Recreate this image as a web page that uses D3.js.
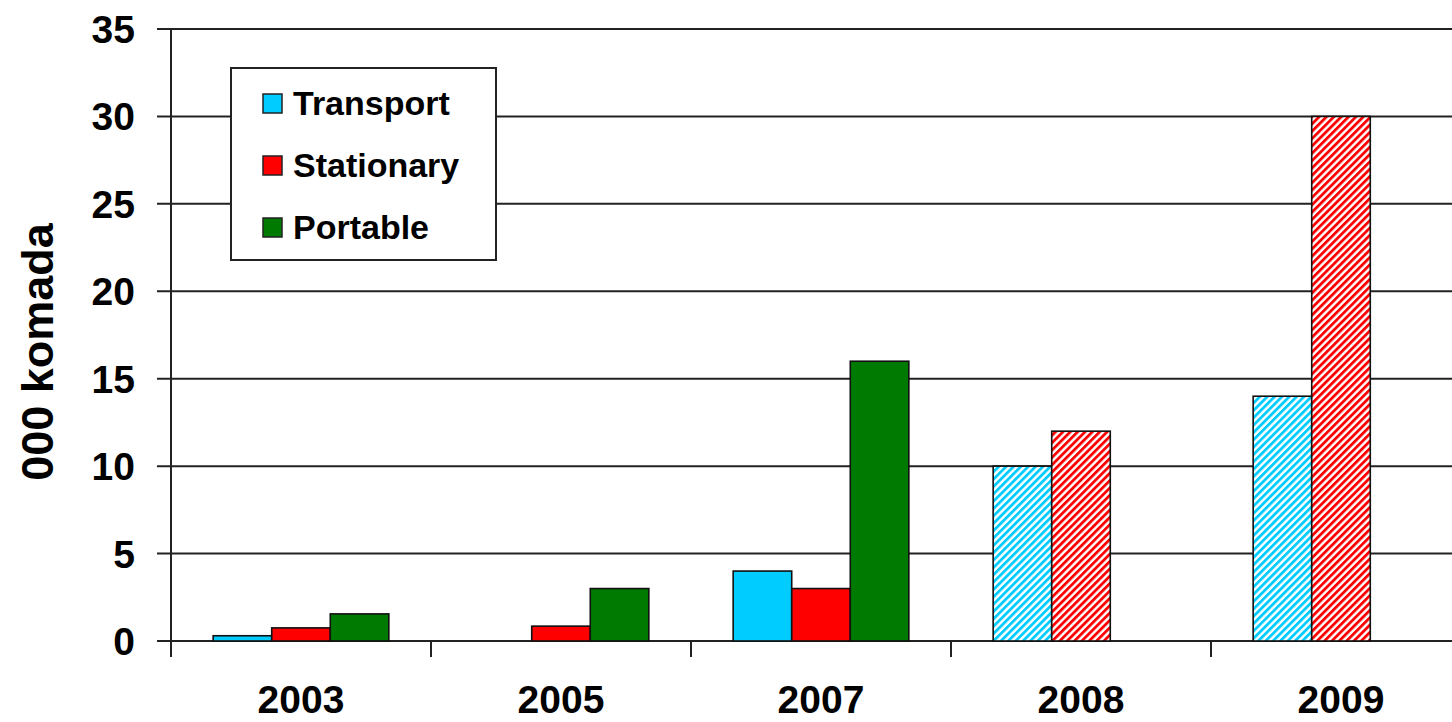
<!DOCTYPE html>
<html>
<head>
<meta charset="utf-8">
<script src="https://cdn.jsdelivr.net/npm/d3@7"></script>
<style>
  body { margin: 0; background: #fff; }
  text { font-family: "Liberation Sans", Arial, sans-serif; font-weight: bold; fill: #000; }
</style>
</head>
<body>
<div id="chart"></div>
<script>
// Podaci
const years = ['2003', '2005', '2007', '2008', '2009'];
const seriesNames = ['Transport', 'Stationary', 'Portable'];
const transport = [0.3, 0, 4, 10, 14];
const stationary = [0.75, 0.85, 3, 12, 30];
const portable = [1.55, 3, 16, null, null];
const hatchedYears = ['2008', '2009']; // prognoza - srafirano
const yTicks = [0, 5, 10, 15, 20, 25, 30, 35];
const yLabel = '000 komada';

const colors = { Transport: '#00ccff', Stationary: '#ff0000', Portable: '#007a00' };

const W = 1452, H = 722;
const margin = { top: 29, left: 171, bottom: 81 };
const plotH = H - margin.top - margin.bottom;

const svg = d3.select('#chart').append('svg')
  .attr('width', W).attr('height', H);

// srafure
const defs = svg.append('defs');
seriesNames.forEach((s) => {
  const p = defs.append('pattern')
    .attr('id', 'hatch-' + s)
    .attr('patternUnits', 'userSpaceOnUse')
    .attr('width', 5.2).attr('height', 5.2)
    .attr('patternTransform', 'rotate(45)');
  p.append('rect').attr('width', 5.2).attr('height', 5.2).attr('fill', '#fff');
  p.append('rect').attr('width', 2.8).attr('height', 5.2).attr('fill', colors[s]);
});

const x = d3.scaleBand().domain(years).range([margin.left, margin.left + 260 * years.length]).padding(0);
const xInner = d3.scaleBand().domain(seriesNames).range([0, x.bandwidth()]).paddingInner(0).paddingOuter(0.72);
const y = d3.scaleLinear().domain([0, 35]).range([margin.top + plotH, margin.top]);

// mreza
svg.append('g')
  .selectAll('line')
  .data(yTicks)
  .enter()
  .append('line')
  .attr('x1', margin.left - 14).attr('x2', W)
  .attr('y1', (d) => y(d)).attr('y2', (d) => y(d))
  .attr('stroke', '#222').attr('stroke-width', 2);

// y osa
svg.append('line')
  .attr('x1', margin.left).attr('x2', margin.left)
  .attr('y1', y(35)).attr('y2', y(0))
  .attr('stroke', '#222').attr('stroke-width', 2);

svg.append('g')
  .selectAll('text')
  .data(yTicks)
  .enter()
  .append('text')
  .attr('x', 135)
  .attr('y', (d) => y(d))
  .attr('dy', '0.36em')
  .attr('text-anchor', 'end')
  .style('font-size', '39px')
  .text((d) => d);

svg.append('text')
  .attr('transform', `translate(53, ${y(17.5) + 17}) rotate(-90)`)
  .attr('text-anchor', 'middle')
  .style('font-size', '45px')
  .text(yLabel);

// x osa ticks
svg.append('g')
  .selectAll('line')
  .data(years.concat(['end']))
  .enter()
  .append('line')
  .attr('x1', (d, i) => margin.left + 260 * i)
  .attr('x2', (d, i) => margin.left + 260 * i)
  .attr('y1', y(0)).attr('y2', y(0) + 16)
  .attr('stroke', '#222').attr('stroke-width', 2);

svg.append('g')
  .selectAll('text')
  .data(years)
  .enter()
  .append('text')
  .attr('x', (d) => x(d) + x.bandwidth() / 2)
  .attr('y', 713)
  .attr('text-anchor', 'middle')
  .style('font-size', '39px')
  .text((d) => d);

// legenda
const legend = svg.append('g');
legend.append('rect')
  .attr('x', 231).attr('y', 68).attr('width', 265).attr('height', 192)
  .attr('fill', '#fff').attr('stroke', '#222').attr('stroke-width', 2);
seriesNames.forEach((s, i) => {
  const cy = 103 + i * 62;
  legend.append('rect')
    .attr('x', 263).attr('y', cy - 9).attr('width', 19).attr('height', 19)
    .attr('fill', colors[s]).attr('stroke', '#222').attr('stroke-width', 1.5);
  legend.append('text')
    .attr('x', 293).attr('y', cy + 12)
    .style('font-size', '34px')
    .text(s);
});

// stupci
const values = { Transport: transport, Stationary: stationary, Portable: portable };
const bars = [];
years.forEach((yr, i) => {
  seriesNames.forEach((s) => {
    const v = values[s][i];
    if (v != null && v > 0) bars.push({ year: yr, series: s, value: v });
  });
});

svg.append('g')
  .selectAll('rect')
  .data(bars)
  .enter()
  .append('rect')
  .attr('x', (d) => x(d.year) + xInner(d.series))
  .attr('y', (d) => y(d.value))
  .attr('width', xInner.bandwidth())
  .attr('height', (d) => y(0) - y(d.value))
  .attr('fill', (d) => hatchedYears.includes(d.year) ? `url(#hatch-${d.series})` : colors[d.series])
  .attr('stroke', '#111')
  .attr('stroke-width', 1.6);
</script>
</body>
</html>
